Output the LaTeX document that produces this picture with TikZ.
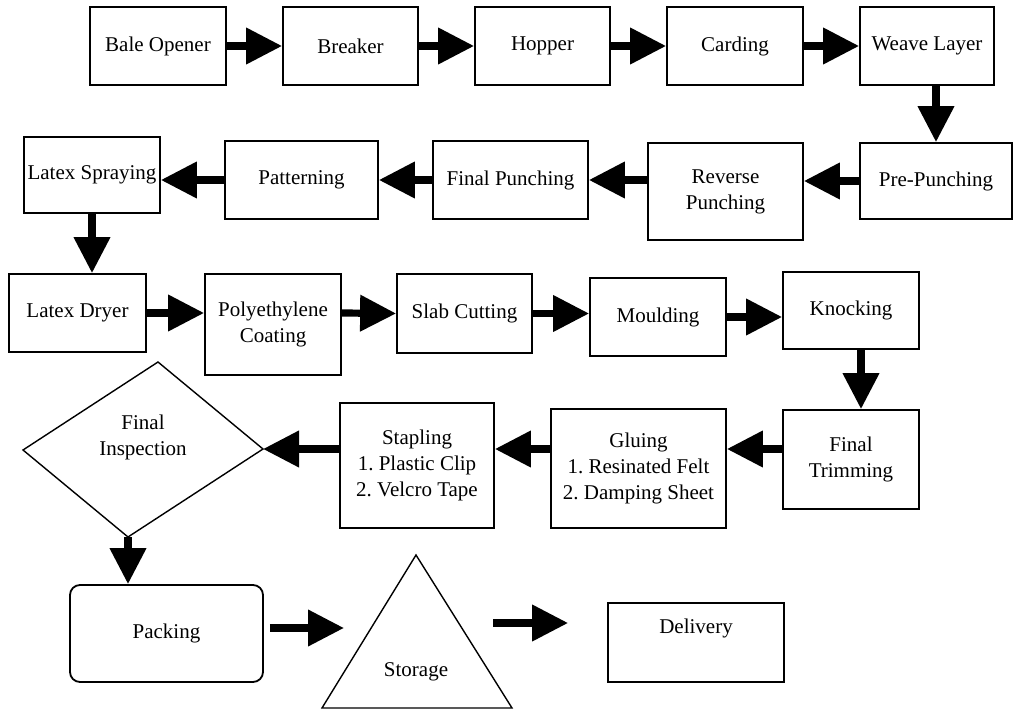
\documentclass[tikz,border=0pt]{standalone}
\usepackage{fontspec}
\setmainfont{Liberation Serif}
\usetikzlibrary{arrows.meta, calc}
\frenchspacing
\tikzset{
  box/.style={rectangle, draw=black, line width=0.9pt, inner sep=1pt,
              align=center, font=\fontsize{10.5}{13}\selectfont},
  lbl/.style={inner sep=1pt, align=center, font=\fontsize{10.5}{13}\selectfont},
  outl/.style={draw=black, line width=0.7pt, line join=miter},
  arc/.style={-{Triangle[length=18pt, width=17.5pt]}, line width=3.6pt}
}
\begin{document}
\begin{tikzpicture}[x=0.5pt, y=-0.5pt]
  \useasboundingbox (0,0) rectangle (1017,711);
  % row 1
  \node[box, minimum width=68pt, minimum height=39pt] (bale) at (158,46) {Bale Opener};
  \node[box, minimum width=67.5pt, minimum height=39pt] (breaker) at (350.5,46) {Breaker};
  \node[box, minimum width=67.5pt, minimum height=39pt] (hopper) at (542.5,46) {Hopper};
  \node[box, minimum width=68pt, minimum height=39pt] (carding) at (735,46) {Carding};
  \node[box, minimum width=67pt, minimum height=39pt] (weave) at (927,46) {Weave Layer};
  % row 2
  \node[box, minimum width=68pt, minimum height=38pt] (spray) at (92,175) {Latex Spraying};
  \node[box, minimum width=76.5pt, minimum height=39pt] (pattern) at (301.5,180) {Patterning};
  \node[box, minimum width=77.5pt, minimum height=39pt] (fpunch) at (510.5,180) {Final Punching};
  \node[box, minimum width=77.5pt, minimum height=48.5pt] (rev) at (725.5,191.5) {Reverse\\Punching};
  \node[box, minimum width=76pt, minimum height=38pt] (pre) at (936,181) {Pre-Punching};
  % row 3
  \node[box, minimum width=68.5pt, minimum height=39pt] (dryer) at (77.5,313) {Latex Dryer};
  \node[box, minimum width=68pt, minimum height=50.5pt] (poly) at (273,324.5) {Polyethylene\\Coating};
  \node[box, minimum width=67.5pt, minimum height=39.5pt] (slab) at (464.5,313.5) {Slab Cutting};
  \node[box, minimum width=68pt, minimum height=39pt] (mould) at (658,317) {Moulding};
  \node[box, minimum width=68pt, minimum height=38.5pt] (knock) at (851,310.5) {Knocking};
  % row 4
  \node[box, minimum width=68pt, minimum height=49.5pt] (trim) at (851,459.5) {Final\\Trimming};
  \node[box, minimum width=87.5pt, minimum height=59.5pt] (glue) at (638.5,468.5) {Gluing\\1. Resinated Felt\\2. Damping Sheet};
  \node[box, minimum width=77pt, minimum height=62.5pt] (staple) at (417,465.5) {Stapling\\1. Plastic Clip\\2. Velcro Tape};
  \coordinate (inspL) at (23,450);
  \coordinate (inspT) at (158,362);
  \coordinate (inspR) at (263,449);
  \coordinate (inspB) at (128,537);
  \draw[outl] (inspL) -- (inspT) -- (inspR) -- (inspB) -- cycle;
  \node[lbl] (insp) at (143,437) {Final\\Inspection};
  % row 5
  \node[box, rounded corners=5pt, minimum width=96.5pt, minimum height=48.5pt] (packing) at (166.5,633.5) {Packing};
  \coordinate (stoA) at (416,555);
  \coordinate (stoBL) at (322,708);
  \coordinate (stoBR) at (512,708);
  \draw[outl] (stoA) -- (stoBR) -- (stoBL) -- cycle;
  \node[lbl] (storage) at (416,672) {Storage};
  \coordinate (stoIn) at (344,628);
  \coordinate (stoOut) at (493,623);
  \node[box, minimum width=88pt, minimum height=39.5pt] (deliv) at (696,642.5) {};
  \node[lbl] (delivtxt) at (696,628) {Delivery};
  % arrows
  \foreach \a/\b in {bale/breaker, breaker/hopper, hopper/carding, carding/weave}
    \draw[arc] (\a.east) -- (\b.west);
  \draw[arc] (weave.south -| pre.north) -- (pre.north);
  \draw[arc] (pre.west) -- (pre.west -| rev.east);
  \draw[arc] (rev.west |- fpunch.east) -- (fpunch.east);
  \draw[arc] (fpunch.west) -- (pattern.east);
  \draw[arc] (pattern.west) -- (pattern.west -| spray.east);
  \draw[arc] (spray.south) -- (spray.south |- dryer.north);
  \draw[arc] (dryer.east) -- (dryer.east -| poly.west);
  \draw[arc] (dryer.east -| poly.east) -- (slab.west);
  \draw[arc] (slab.east) -- (slab.east -| mould.west);
  \draw[arc] (mould.east) -- (mould.east -| knock.west);
  \draw[arc] ([xshift=5pt]knock.south) -- ([xshift=5pt]trim.north);
  \draw[arc] (trim.west |- inspR) -- (glue.east |- inspR);
  \draw[arc] (glue.west |- inspR) -- (staple.east |- inspR);
  \draw[arc] (staple.west |- inspR) -- (inspR);
  \draw[arc] (inspB) -- (inspB |- packing.north);
  \draw[arc, shorten <=3pt] (packing.east |- stoIn) -- (stoIn);
  \draw[arc, shorten >=19.5pt] (stoOut) -- (stoOut -| deliv.west);
\end{tikzpicture}
\end{document}
